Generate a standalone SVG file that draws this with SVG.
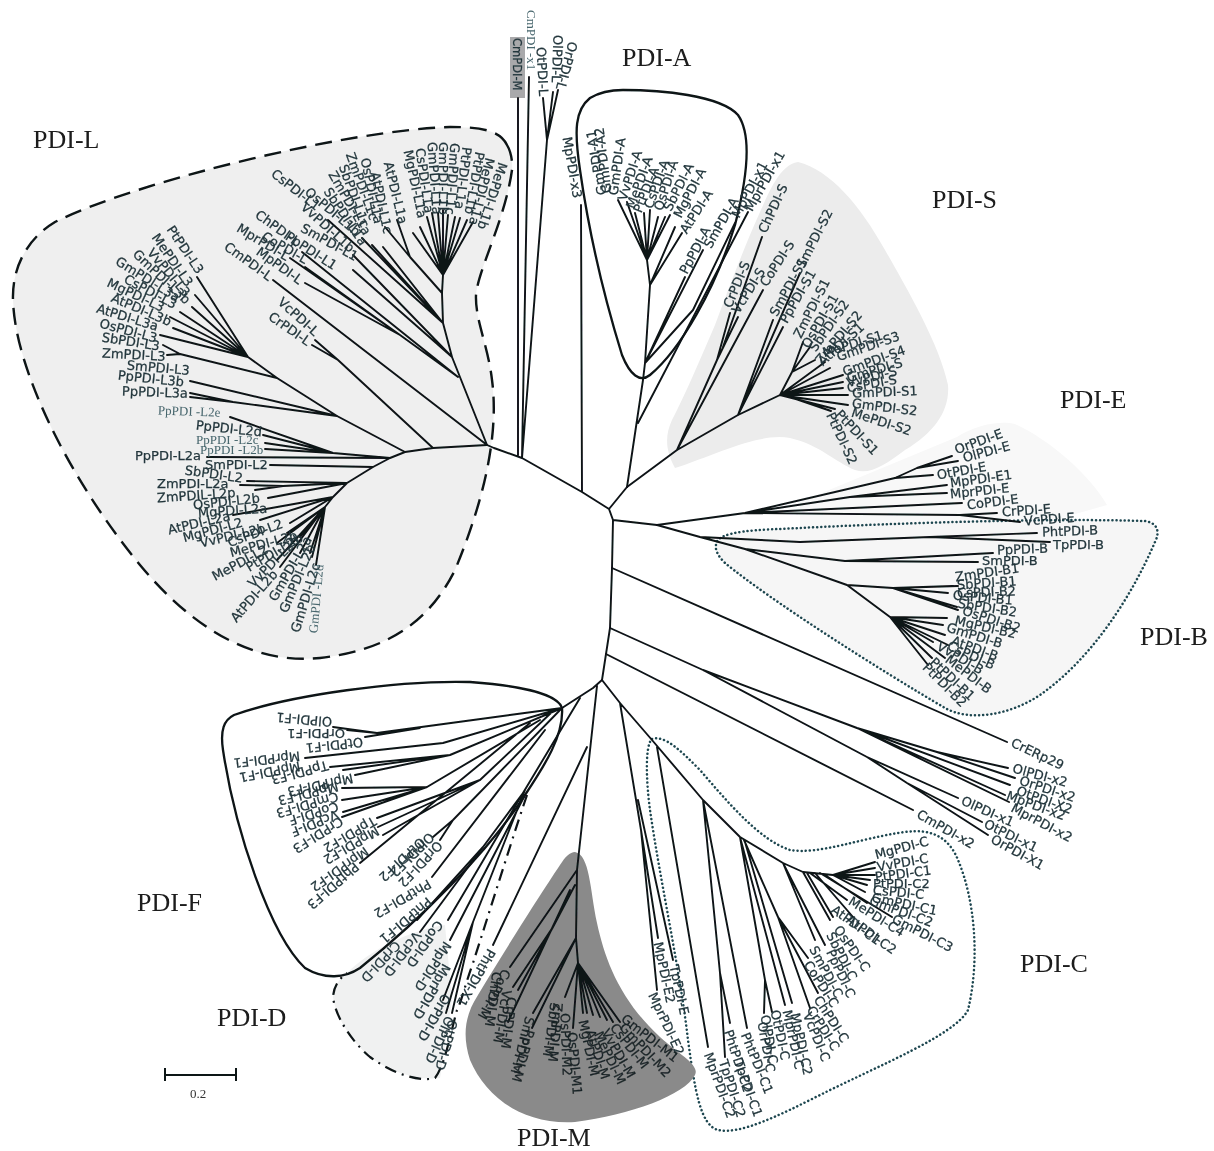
<svg xmlns="http://www.w3.org/2000/svg" width="1214" height="1151" viewBox="0 0 1214 1151">
<defs><filter id="b" x="-2%" y="-2%" width="104%" height="104%"><feGaussianBlur stdDeviation="0.45"/></filter></defs>
<style>
svg>g{filter:url(#b)}
text{font-family:"DejaVu Sans",sans-serif;font-size:13px;fill:#22363c;stroke:#22363c;stroke-width:.25;dominant-baseline:central}
text.s{font-family:"Liberation Serif",serif;font-size:13px;fill:#46656c;stroke:none}
text.h{font-family:"Liberation Serif",serif;font-size:26px;fill:#1b1b1b;stroke:none;dominant-baseline:auto}
text.m{fill:#1a2326;stroke:#1a2326}
#connectors path{fill:none;stroke:#0b1215;stroke-width:1.9;stroke-linejoin:round;stroke-linecap:round}
.o{stroke:#0b1215;stroke-width:2.3;fill:none}
.dot{stroke:#1f4650;stroke-width:2.5;stroke-linecap:round;stroke-dasharray:0.1 4}
</style>
<rect width="1214" height="1151" fill="#fff"/>
<g id="regions">
<path d="M507 145C500 130 480 127 450 127C350 130 140 180 55 222C25 240 12 270 13 300C15 370 70 480 140 565C190 625 250 665 320 658C390 650 430 620 455 570C480 510 500 440 492 380C488 345 475 320 476 295C478 270 505 220 512 170C513 160 510 150 507 145Z" fill="#efefef" stroke="#0b1215" stroke-width="2.4" stroke-dasharray="17 9"/>
<path d="M798 162C830 170 860 205 885 250C905 285 940 345 948 385C950 410 935 432 905 450C885 465 870 475 855 470C835 462 820 445 790 438C760 432 715 455 675 468C665 450 665 435 672 420C685 395 700 360 715 325C730 285 745 245 760 212C770 190 780 165 798 162Z" fill="#ececec"/>
<path d="M957 437C975 425 1000 420 1015 424C1050 440 1090 475 1107 505L1040 524L800 528V502Z" fill="#f8f8f8"/>
<path d="M623 90C660 90 720 95 738 115C752 135 748 175 735 225C715 290 680 350 650 375C640 383 630 375 622 355C605 300 590 240 580 170C574 130 575 110 590 98C600 92 610 90 623 90Z" fill="#f5f5f5" class="o"/>
<path d="M716 545C716 530 760 530 800 528C900 523 1050 518 1145 521C1158 523 1160 532 1155 542C1130 600 1090 660 1040 695C1010 715 970 722 945 708C880 670 770 600 725 563C718 556 715 550 716 545Z" fill="#f6f6f6" class="dot"/>
<path d="M652 739C665 735 680 750 700 770C730 805 760 840 790 850C820 855 860 838 905 832C935 828 950 840 958 860C975 900 980 960 968 1010C955 1035 880 1065 820 1095C780 1115 740 1135 718 1130C700 1125 695 1090 688 1040C680 970 660 880 650 810C646 780 645 745 652 739Z" fill="none" class="dot"/>
<path d="M347 973C370 950 410 930 445 925L452 1000L440 1078C420 1080 395 1075 370 1057C350 1040 335 1015 333 997C334 985 340 978 347 973Z" fill="#f0f1f1"/>
<path d="M527 795C515 830 490 910 473 963C465 985 462 1000 457 1010C450 1035 445 1065 435 1078C420 1082 395 1075 370 1057C350 1040 335 1015 333 997C334 985 340 978 347 973" fill="none" stroke="#0b1215" stroke-width="2.2" stroke-dasharray="12 6 2 6"/>
<path d="M234 715C290 695 400 680 470 682C525 686 558 695 562 708C564 735 545 765 525 795C490 850 420 920 360 968C345 978 325 980 305 968C270 935 235 830 223 750C220 730 224 720 234 715Z" fill="#fff" class="o"/>
<path d="M575 852C590 855 590 890 597 923C605 960 620 1000 660 1037C680 1055 700 1065 695 1075C685 1095 630 1115 575 1122C520 1125 485 1095 470 1060C462 1035 465 1015 478 995C505 950 540 895 560 865C565 857 570 852 575 852Z" fill="#8a8a8a"/>
<rect x="510" y="37" width="15" height="61" fill="#a9a9ab"/>
</g>
<g id="connectors">
<path id="backbone" d="M487 445L494 448L522 458L582 492L609 509L613 520L612 568L610 628L606 654L602 680L593 688L562 708M613 520L657 525M609 509L627 487M582 492L581 205M518 455L518 98M522 458L529 77M522 458L547 140L543 98M547 140L553 92M547 140L558 90"/>
<path id="tree-L" d="M487 445L433 448L405 452L390 458L373 467L347 483L333 497L325 507M487 445L273 280M433 448L338 360L315 340M338 360L312 345M405 452L337 416L277 378L248 357M337 416L190 381M337 416L233 402L190 393M233 402L190 397M277 378L180 354L167 355M180 354L163 345M248 357L197 277M248 357L195 295M248 357L192 307M248 357L180 312M248 357L170 317M248 357L173 328M248 357L160 335M390 458L207 457M373 467L270 465M390 458L333 453L230 417M333 453L263 435M333 453L265 443M333 453L265 449M347 483L247 481M347 483L283 486L240 485M283 486L255 490M347 483L268 498M333 497L233 515M333 497L260 520M333 497L290 523M325 507L287 533M325 507L277 543M325 507L300 537M325 507L277 560M325 507L280 567M325 507L300 553M325 507L310 553M325 507L312 557M325 507L316 565M487 445L452 357L443 323L442 293L443 275M443 275L413 233M443 275L420 227M443 275L427 217M443 275L432 213M443 275L438 213M443 275L443 210M443 275L448 215M443 275L455 217M443 275L460 218M443 275L467 220M443 275L473 222M443 323L328 220M443 323L362 238M443 323L372 245M443 323L383 247M442 293L410 257L385 227M410 257L397 220M452 357L353 270M452 357L353 255M458 377L302 252M458 377L400 335L305 267M400 335L290 258M400 335L305 283"/>
<path id="tree-A" d="M627 487L643 380L645 363L650 285L647 260M650 285L682 233M650 285L675 227M647 260L618 200M647 260L627 202M647 260L635 213M647 260L644 213M647 260L650 210M647 260L658 217M647 260L665 217M647 260L670 215M645 363L685 277M645 363L703 250M638 423L748 212M645 363L693 310L735 223"/>
<path id="tree-S" d="M627 487L677 450L738 415L780 395L792 372M677 450L717 360L730 313M717 360L738 317M677 450L763 290M723 347L762 237M738 415L773 320M738 415L783 327M738 415L800 273M780 395L792 372L803 342M792 372L810 347M792 372L815 360M780 395L825 362M780 395L830 368M780 395L843 375M780 395L843 382M780 395L843 388M780 395L848 395M780 395L848 405M780 395L835 409M790 397L831 411"/>
<path id="tree-E" d="M657 525L745 513L895 478L917 468L952 456M917 468L958 461M895 478L933 475M745 513L850 497L947 485M850 497L947 493M745 513L962 503M745 513L960 515L997 513M960 515L1020 522"/>
<path id="tree-B" d="M657 525L700 537L800 542L930 537L1037 533M930 537L1050 542M700 537L745 549L845 561L993 553M845 561L978 562M745 549L847 585L893 588L953 586M893 588L958 586M893 588L948 593M893 588L957 607M893 588L958 610M847 585L890 617L947 618M890 617L943 625M890 617L945 635M890 617L933 642M890 617L948 645M890 617L945 658M890 617L932 658M890 617L928 665"/>
<path id="tree-X" d="M612 568L1007 742M610 628L703 670L857 728L937 752L1008 768M937 752L1015 778M857 728L1010 785M857 728L1005 795M857 728L1009 802M703 670L867 757L958 798M867 757L907 783L982 822M907 783L988 835M606 654L913 810"/>
<path id="tree-C" d="M602 680L620 703L652 740L703 800L740 837L783 863L803 872L833 875L875 862M833 875L875 868M833 875L875 875M833 875L870 880M833 875L867 885M833 875L865 892M820 873L892 917M620 703L641 830L657 990M641 830L658 938M638 800L673 960M657 747L708 1047M703 800L720 973L725 1057M720 973L730 1023M703 800L747 1028M740 837L765 980L764 1013M765 980L772 1012M740 837L785 1005M745 842L792 1003M744 840L778 917L810 1008M778 917L818 993M778 917L808 958M783 863L825 945M783 863L815 940M803 872L830 920M807 873L833 917M810 873L847 900M815 873L853 917M825 875L867 903"/>
<path id="tree-M" d="M597 686L577 870L576 938L578 963M577 870L510 967M575 885L553 927L513 987M553 927L518 990M570 890L508 1022M576 938L533 1013M576 938L532 1028M578 963L565 997M578 963L573 1028M578 963L583 1013M578 963L587 1013M578 963L593 1015M578 963L600 1017M578 963L607 1020M578 963L613 1022M578 963L620 1022M587 747L493 945"/>
<path id="tree-F" d="M562 708L377 733L333 727M377 733L347 730M420 728L365 737M562 708L443 743L305 758M562 708L450 755L330 767M450 755L343 770M450 755L355 775M540 720L427 787L342 788M427 787L342 800M427 787L343 812M427 787L342 817M552 712L480 780L377 818M480 780L378 827M480 780L383 835M530 723L360 863M562 708L453 820L433 837M453 820L440 840M545 730L432 877"/>
<path id="tree-D" d="M580 698L523 793L483 847L417 920M483 847L420 932M523 793L448 920M525 795L450 940M525 790L473 922L446 1013M473 922L452 1013M473 922L443 1000"/>
</g>
<g id="clade-L">
<text x="33" y="148" class="h">PDI-L</text>
<text transform="translate(170 227)rotate(56)">PtPDI-L3</text><text transform="translate(155 235)rotate(55)">MePDI-L3</text><text transform="translate(150 250)rotate(50)">VvPDI-L3</text><text transform="translate(135 252)rotate(43)">GmPDI-L3b</text><text transform="translate(117 260)rotate(32)">GmPDI-L3a</text><text transform="translate(125 278)rotate(28)">CsPDI-L3</text><text transform="translate(108 282)rotate(25)">MgPDI-L3</text><text transform="translate(112 297)rotate(23)">AtPDI-L3b</text><text transform="translate(97 308)rotate(17)">AtPDI-L3a</text><text transform="translate(100 323)rotate(15)">OsPDI-L3</text><text transform="translate(102 337)rotate(9)">SbPDI-L3</text><text transform="translate(102 353)rotate(3)">ZmPDI-L3</text>
<text transform="translate(127 365)rotate(5)">SmPDI-L3</text><text transform="translate(118 375)rotate(6)">PpPDI-L3b</text><text transform="translate(122 391)rotate(2)">PpPDI-L3a</text>
<text class="s" transform="translate(158 410)rotate(2)">PpPDI -L2e</text><text transform="translate(196 425)rotate(6)">PpPDI-L2d</text><text class="s" transform="translate(196 439)rotate(0)">PpPDI -L2c</text><text class="s" transform="translate(200 449)rotate(0)">PpPDI -L2b</text><text transform="translate(135 455)rotate(0)">PpPDI-L2a</text><text transform="translate(205 464)rotate(0)">SmPDI-L2</text>
<text transform="translate(185 470)rotate(8)">SbPDI-L2</text><text transform="translate(157 483)rotate(0)">ZmPDI-L2a</text><text transform="translate(157 498)rotate(-4)">ZmPDIL-L2p</text><text transform="translate(193 505)rotate(-6)">OsPDI-L2b</text><text transform="translate(198 513)rotate(-4)">MgPDI-L2a</text><text transform="translate(168 530)rotate(-13)">AtPDI-L2a</text><text transform="translate(183 538)rotate(-15)">MgPDI-L2</text><text transform="translate(200 543)rotate(-13)">VvPDI-L2b</text><text transform="translate(228 543)rotate(-20)">CsPDI-L2</text><text transform="translate(230 553)rotate(-15)">MePDI-L2b</text><text transform="translate(213 577)rotate(-28)">MePDI-L2</text><text transform="translate(247 568)rotate(-30)">PtPDI-L2b</text><text transform="translate(250 585)rotate(-45)">VvPDI-L2b</text><text transform="translate(233 620)rotate(-49)">AtPDI-L2b</text><text transform="translate(272 600)rotate(-60)">GmPDI-L2a</text><text transform="translate(283 612)rotate(-67)">GmPDI-L2b</text><text transform="translate(295 632)rotate(-73)">GmPDI-L2c</text><text class="s" transform="translate(313 633)rotate(-85)">GmPDI -L2d</text>
<text transform="translate(273 172)rotate(38)">CsPDI-L1</text><text transform="translate(307 190)rotate(40)">OsPDI-L1b</text><text transform="translate(303 205)rotate(42)">VvPDI-L1b</text><text transform="translate(327 189)rotate(56)">SbPDI-L1a</text><text transform="translate(332 172)rotate(60)">ZmPDI-L1a</text><text transform="translate(343 165)rotate(70)">SbPDI-L1c</text><text transform="translate(350 153)rotate(70)">ZmPDI-L1c</text><text transform="translate(365 158)rotate(78)">OsPDI-L1a</text><text transform="translate(375 172)rotate(78)">AtPDI-L1c</text><text transform="translate(388 162)rotate(76)">AtPDI-L1a</text><text transform="translate(408 150)rotate(78)">MgPDI-L1a</text><text transform="translate(420 148)rotate(82)">CsPDI-L1a</text><text transform="translate(432 142)rotate(86)">GmPDI-L1a</text><text transform="translate(443 142)rotate(90)">GmPDI-L1b</text><text transform="translate(455 143)rotate(94)">GmPDI-L1c</text><text transform="translate(467 147)rotate(97)">PtPDI-L1a</text><text transform="translate(480 152)rotate(100)">PtPDI-L1b</text><text transform="translate(490 158)rotate(104)">MePDI-L1a</text><text transform="translate(503 163)rotate(108)">MePDI-L1b</text>
<text transform="translate(257 213)rotate(36)">ChPDI-L</text><text transform="translate(263 235)rotate(30)">CoPDI-L</text><text transform="translate(238 227)rotate(31)">MprPDI-L</text><text transform="translate(258 250)rotate(36)">MpPDI-L</text><text transform="translate(226 245)rotate(36)">CmPDI-L</text><text transform="translate(287 235)rotate(33)">PpPDI-L1</text><text transform="translate(302 227)rotate(29)">SmPDI-L1</text><text transform="translate(280 300)rotate(42)">VcPDI-L</text><text transform="translate(270 315)rotate(35)">CrPDI-L</text>
</g>
<g id="clade-top">
<text transform="translate(517 38)rotate(90)" style="font-size:11.5px">CmPDI-M</text><text class="s" transform="translate(531 10)rotate(90)">CmPDI -x1</text><text transform="translate(541 47)rotate(87)">OtPDI-L</text><text transform="translate(558 35)rotate(92)">OlPDI-L</text><text transform="translate(573 42)rotate(105)">OrPDI-L</text><text transform="translate(567 137)rotate(80)">MpPDI-x3</text>
</g>
<g id="clade-A">
<text x="622" y="66" class="h">PDI-A</text>
<text transform="translate(602 195)rotate(-100)">GmPDI-A1</text><text transform="translate(607 193)rotate(-97)">GmPDI-A2</text><text transform="translate(613 195)rotate(-82)">GmPDI-A</text><text transform="translate(622 200)rotate(-72)">VvPDI-A</text><text transform="translate(630 208)rotate(-70)">MePDI-A</text><text transform="translate(637 212)rotate(-68)">PtPDI-A</text><text transform="translate(648 208)rotate(-70)">CsPDI-A</text><text transform="translate(658 210)rotate(-72)">OsPDI-A</text><text transform="translate(667 210)rotate(-63)">SbPDI-A</text><text transform="translate(677 217)rotate(-62)">MgPDI-A</text><text transform="translate(683 232)rotate(-57)">AtPDI-A</text><text transform="translate(683 273)rotate(-62)">PpPDI-A</text><text transform="translate(707 247)rotate(-60)">SmPDI-A</text>
<text transform="translate(735 217)rotate(-62)">MpPDI-x1</text><text transform="translate(748 210)rotate(-60)">MprPDI-x1</text>
</g>
<g id="clade-S">
<text x="932" y="208" class="h">PDI-S</text>
<text transform="translate(762 232)rotate(-65)">ChPDI-S</text><text transform="translate(800 267)rotate(-63)">SmPDI-S2</text><text transform="translate(763 285)rotate(-57)">CoPDI-S</text><text transform="translate(773 315)rotate(-61)">SmPDI-S1</text><text transform="translate(783 322)rotate(-60)">PpPDI-S1</text><text transform="translate(727 307)rotate(-67)">CrPDI-S</text><text transform="translate(735 312)rotate(-58)">VcPDI-S</text>
<text transform="translate(797 337)rotate(-63)">ZmPDI-S1</text><text transform="translate(805 347)rotate(-60)">OsPDI-S1</text><text transform="translate(812 350)rotate(-55)">SbPDI-S2</text><text transform="translate(818 362)rotate(-50)">ZmPDI-S2</text><text transform="translate(820 363)rotate(-42)">AtPDI-S1</text><text transform="translate(823 353)rotate(-17)">MePDI-S1</text><text transform="translate(837 357)rotate(-19)">GmPDI-S3</text><text transform="translate(843 372)rotate(-20)">GmPDI-S4</text><text transform="translate(847 378)rotate(-16)">GmPDI-S</text><text transform="translate(847 383)rotate(-14)">VvPDI-S</text><text transform="translate(847 388)rotate(-10)">CsPDI-S</text><text transform="translate(852 393)rotate(-2)">GmPDI-S1</text><text transform="translate(852 403)rotate(7)">GmPDI-S2</text><text transform="translate(852 412)rotate(18)">MePDI-S2</text><text transform="translate(838 412)rotate(47)">PtPDI-S1</text><text transform="translate(830 413)rotate(65)">PtPDI-S2</text>
</g>
<g id="clade-E">
<text x="1060" y="408" class="h">PDI-E</text>
<text transform="translate(955 450)rotate(-20)">OrPDI-E</text><text transform="translate(963 458)rotate(-15)">OlPDI-E</text><text transform="translate(937 475)rotate(-10)">OtPDI-E</text><text transform="translate(950 483)rotate(-8)">MpPDI-E1</text><text transform="translate(950 494)rotate(-6)">MprPDI-E</text><text transform="translate(967 505)rotate(-7)">CoPDI-E</text><text transform="translate(1002 512)rotate(-4)">CrPDI-E</text><text transform="translate(1024 521)rotate(-4)">VcPDI-E</text>
</g>
<g id="clade-B">
<text x="1140" y="645" class="h">PDI-B</text>
<text transform="translate(1042 532)rotate(-2)">PhtPDI-B</text><text transform="translate(1053 544)">TpPDI-B</text><text transform="translate(997 550)rotate(-2)">PpPDI-B</text><text transform="translate(982 560)">SmPDI-B</text><text transform="translate(955 577)rotate(-8)">ZmPDI-B1</text><text transform="translate(957 585)rotate(-4)">SbPDI-B1</text><text transform="translate(957 593)rotate(-2)">CsPDI-B2</text><text transform="translate(953 595)rotate(5)">OsPDI-B1</text><text transform="translate(958 603)rotate(9)">SbPDI-B2</text><text transform="translate(963 610)rotate(18)">OsPDI-B2</text><text transform="translate(955 620)rotate(13)">MgPDI-B2</text><text transform="translate(947 627)rotate(17)">GmPDI-B</text><text transform="translate(952 640)rotate(20)">AtPDI-B</text><text transform="translate(948 645)rotate(24)">CsPDI-B</text><text transform="translate(938 645)rotate(30)">VvPDI-B</text><text transform="translate(947 658)rotate(37)">MePDI-B</text><text transform="translate(932 660)rotate(43)">PtPDI-B1</text><text transform="translate(925 665)rotate(45)">PtPDI-B2</text>
</g>
<g id="clade-X">
<text transform="translate(1012 742)rotate(25)">CrERp29</text><text transform="translate(1013 768)rotate(15)">OlPDI-x2</text><text transform="translate(1020 780)rotate(18)">OrPDI-x2</text><text transform="translate(1017 790)rotate(20)">OtPDI-X2</text><text transform="translate(1007 795)rotate(20)">MpPDI-x2</text><text transform="translate(1012 807)rotate(28)">MprPDI-x2</text><text transform="translate(962 800)rotate(24)">OlPDI-x1</text><text transform="translate(985 823)rotate(26)">OtPDI-x1</text><text transform="translate(992 838)rotate(29)">OrPDI-X1</text><text transform="translate(918 813)rotate(30)">CmPDI-x2</text>
</g>
<g id="clade-C">
<text x="1020" y="972" class="h">PDI-C</text>
<text transform="translate(875 855)rotate(-15)">MgPDI-C</text><text transform="translate(877 867)rotate(-10)">VvPDI-C</text><text transform="translate(875 877)rotate(-7)">PtPDI-C1</text><text transform="translate(873 883)">PtPDI-C2</text><text transform="translate(873 890)rotate(5)">CsPDI-C</text><text transform="translate(872 897)rotate(12)">GmPDI-C1</text><text transform="translate(870 900)rotate(20)">GmPDI-C2</text><text transform="translate(893 918)rotate(27)">GmPDI-C3</text><text transform="translate(850 900)rotate(32)">MePDI-C4</text><text transform="translate(833 908)rotate(36)">AtPDI-C1</text><text transform="translate(848 918)rotate(35)">AtPDI-C2</text><text transform="translate(837 927)rotate(55)">OsPDI-C</text><text transform="translate(830 933)rotate(63)">SbPDI-C</text><text transform="translate(830 950)rotate(65)">PpPDI-C</text><text transform="translate(813 947)rotate(62)">SmPDI-C</text><text transform="translate(807 962)rotate(57)">CoPDI-C</text><text transform="translate(817 997)rotate(57)">ChPDI-C</text><text transform="translate(810 1007)rotate(58)">CrPDI-C</text><text transform="translate(807 1013)rotate(68)">VcPDI-C</text><text transform="translate(795 1013)rotate(78)">MpPDI-C2</text><text transform="translate(787 1010)rotate(78)">MprPDI-C</text><text transform="translate(775 1010)rotate(78)">OtPDI-C</text><text transform="translate(765 1015)rotate(80)">OlPDI-C</text><text transform="translate(762 1022)rotate(80)">OrPDI-C</text><text transform="translate(745 1033)rotate(68)">PhtPDI-C1</text><text transform="translate(728 1030)rotate(72)">PhtPDI-C2</text><text transform="translate(738 1060)rotate(70)">TpPDI-C1</text><text transform="translate(723 1060)rotate(72)">TpPDI-C2</text><text transform="translate(708 1053)rotate(70)">MprPDI-C2</text>
<text transform="translate(658 942)rotate(78)">MpPDI-E2</text><text transform="translate(674 965)rotate(78)">TpPDI-E</text><text transform="translate(652 993)rotate(65)">MprPDI-E2</text>
</g>
<g id="clade-M">
<text x="517" y="1146" class="h">PDI-M</text>
<text class="m" transform="translate(623 1017)rotate(38)">GmPDI-M1</text><text class="m" transform="translate(622 1025)rotate(47)">GmPDI-M2</text><text class="m" transform="translate(613 1025)rotate(52)">CsPDI-M</text><text class="m" transform="translate(605 1030)rotate(60)">VvPDI-M</text><text class="m" transform="translate(598 1032)rotate(65)">MePDI-M</text><text class="m" transform="translate(590 1030)rotate(72)">AtPDI-M</text><text class="m" transform="translate(583 1020)rotate(78)">MgPDI-M</text><text class="m" transform="translate(572 1032)rotate(85)">OsPDI-M1</text><text class="m" transform="translate(565 1013)rotate(88)">OsPDI-M2</text><text class="m" transform="translate(558 1003)rotate(95)">ZmPDI-M</text><text class="m" transform="translate(555 1003)rotate(98)">SbPDI-M</text><text class="m" transform="translate(530 1017)rotate(105)">SmPDI-M</text><text class="m" transform="translate(530 1030)rotate(105)">PpPDI-M</text><text class="m" transform="translate(512 997)rotate(97)">CrPDI-M</text><text class="m" transform="translate(507 990)rotate(100)">VcPDI-M</text><text class="m" transform="translate(507 970)rotate(118)">CoPDI-M</text><text class="m" transform="translate(497 972)rotate(98)">ChPDI-M</text>
</g>
<g id="clade-F">
<text x="137" y="911" class="h">PDI-F</text>
<text transform="translate(332 722)rotate(185)">OlPDI-F1</text><text transform="translate(345 733)rotate(180)">OrPDI-F1</text><text transform="translate(363 742)rotate(174)">OtPDI-F1</text><text transform="translate(300 756)rotate(174)">MprPDI-F1</text><text transform="translate(300 766)rotate(169)">MpPDI-F1</text><text transform="translate(328 765)rotate(165)">TpPDI-F3</text><text transform="translate(353 778)rotate(168)">MprPDI-F3</text><text transform="translate(338 786)rotate(166)">MpPDI-F3</text><text transform="translate(338 796)rotate(164)">CmPDI-F3</text><text transform="translate(338 806)rotate(163)">CoPDI-F</text><text transform="translate(338 814)rotate(158)">VcPDI-F</text><text transform="translate(342 820)rotate(148)">CrPDI-F3</text><text transform="translate(375 820)rotate(150)">TpPDI-F2</text><text transform="translate(378 830)rotate(150)">MpPDI-F2</text><text transform="translate(367 850)rotate(145)">MprPDI-F2</text><text transform="translate(357 865)rotate(139)">PhtPDI-F3</text><text transform="translate(423 840)rotate(137)">OtPDI-F2</text><text transform="translate(432 835)rotate(135)">OlPDI-F2</text><text transform="translate(440 843)rotate(133)">OrPDI-F2</text><text transform="translate(430 883)rotate(150)">PhtPDI-F2</text><text transform="translate(430 900)rotate(140)">PhtPDI-F1</text>
</g>
<g id="clade-D">
<text x="217" y="1026" class="h">PDI-D</text>
<text transform="translate(398 943)rotate(133)">CrPDI-D</text><text transform="translate(418 933)rotate(127)">VcPDI-D</text><text transform="translate(440 922)rotate(125)">CoPDI-D</text><text transform="translate(448 943)rotate(123)">MpPDI-D</text><text transform="translate(447 965)rotate(120)">MprPDI-D</text><text transform="translate(447 995)rotate(120)">OrPDI-D</text><text transform="translate(450 1017)rotate(115)">OlPDI-D</text><text transform="translate(453 1020)rotate(105)">OtPDI-D</text><text transform="translate(492 950)rotate(120)">PhtPDI-X1</text>
</g>
<g id="scale">
<path d="M165 1075H236M165 1068V1081M236 1068V1081" stroke="#0b1215" stroke-width="2" fill="none"/>
<text class="s" x="190" y="1093" style="font-size:13px;fill:#333">0.2</text>
</g>
</svg>
